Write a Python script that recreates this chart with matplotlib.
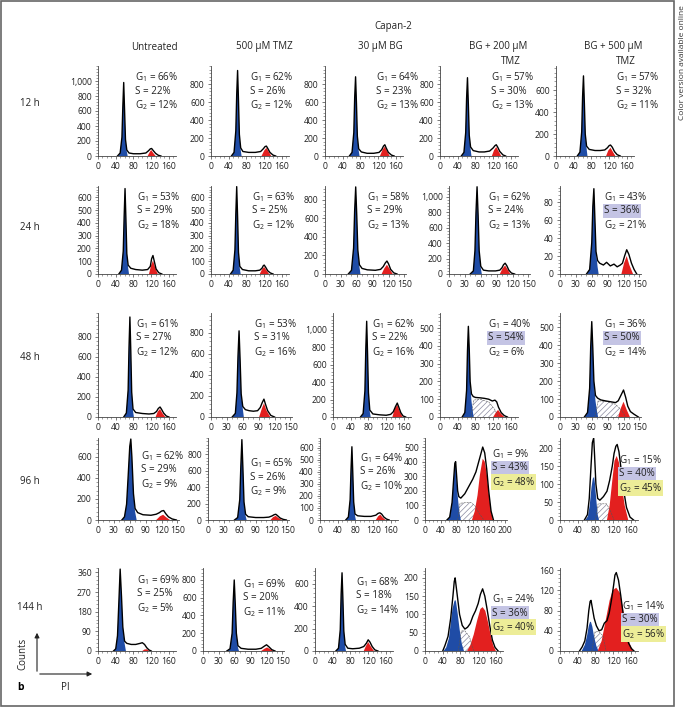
import matplotlib
matplotlib.use('Agg')
import matplotlib.pyplot as plt
from matplotlib.ticker import FixedLocator, MultipleLocator, FuncFormatter
from matplotlib.patches import FancyArrowPatch, Rectangle

W, H = 689, 708
plt.rcParams['font.family'] = ['Open Sans', 'DejaVu Sans']
plt.rcParams['hatch.linewidth'] = 0.5

times = ['12 h', '24 h', '48 h', '96 h', '144 h']
conditions = ['Untreated', '500 \u03bcM TMZ', '30 \u03bcM BG', 'BG + 200 \u03bcM', 'BG + 500 \u03bcM']

g1_pct = [[66, 62, 64, 57, 57], [53, 63, 58, 62, 43], [61, 53, 62, 40, 36],
          [62, 65, 64, 9, 15], [69, 69, 68, 24, 14]]
s_pct = [[22, 26, 23, 30, 32], [29, 25, 29, 24, 36], [27, 31, 22, 54, 50],
         [29, 26, 26, 43, 40], [25, 20, 18, 36, 30]]
g2_pct = [[12, 12, 13, 13, 11], [18, 12, 13, 13, 21], [12, 16, 16, 6, 14],
          [9, 9, 10, 48, 45], [5, 11, 14, 40, 56]]
s_marked = [[0, 0, 0, 0, 0], [0, 0, 0, 0, 1], [0, 0, 0, 1, 1], [0, 0, 0, 1, 1], [0, 0, 0, 1, 1]]
g2_marked = [[0, 0, 0, 0, 0], [0, 0, 0, 0, 0], [0, 0, 0, 0, 0], [0, 0, 0, 1, 1], [0, 0, 0, 1, 1]]

# PI axis: last tick label, y axis: (top, last tick label, step)
x_last = [[160, 160, 160, 160, 160], [160, 160, 150, 150, 150], [160, 150, 160, 160, 150],
          [150, 150, 160, 200, 160], [160, 150, 160, 160, 160]]
y_top = [[1200, 1000, 1000, 1000, 820], [690, 690, 950, 1140, 98], [1040, 990, 1195, 585, 578],
         [780, 1000, 683, 562, 228], [380, 935, 743, 227, 164]]
y_last = [[1000, 800, 800, 800, 600], [600, 600, 800, 1000, 80], [800, 800, 1000, 500, 500],
          [600, 800, 600, 500, 200], [360, 800, 600, 200, 160]]
y_step = [[200, 200, 200, 200, 200], [100, 100, 200, 200, 20], [200, 200, 200, 100, 100],
          [200, 200, 100, 100, 50], [90, 200, 200, 50, 40]]

# histogram outlines
outline_x = [
    [[44, 50, 54, 56, 58, 60, 62, 65, 70, 80, 95, 108, 114, 118, 121, 125, 130, 136, 142],
     [46, 52, 56, 58, 60, 62, 64, 67, 72, 85, 100, 112, 118, 122, 125, 128, 133, 140, 146],
     [55, 61, 65, 67, 69, 71, 73, 76, 82, 95, 110, 122, 128, 132, 135, 138, 143, 150, 156],
     [48, 54, 58, 60, 62, 64, 66, 69, 75, 88, 100, 112, 120, 124, 127, 130, 135, 142, 148],
     [48, 54, 58, 60, 62, 64, 66, 69, 75, 88, 100, 110, 116, 120, 123, 127, 132, 138, 145]],
    [[47, 53, 57, 59, 61, 63, 65, 68, 74, 85, 100, 112, 118, 121, 124, 127, 131, 137, 144],
     [44, 50, 54, 56, 58, 60, 62, 65, 71, 85, 100, 110, 115, 118, 120, 123, 128, 134, 140],
     [44, 50, 54, 56, 58, 60, 62, 65, 70, 80, 95, 105, 110, 114, 117, 120, 124, 130, 136],
     [40, 46, 49, 51, 53, 55, 57, 60, 65, 75, 88, 96, 100, 103, 106, 109, 113, 118, 124],
     [50, 56, 60, 62, 64, 66, 68, 71, 75, 82, 88, 95, 102, 108, 114, 118, 122, 126, 130, 135, 140, 145]],
    [[58, 64, 68, 70, 72, 74, 76, 79, 85, 100, 115, 126, 132, 136, 140, 143, 148, 154, 160],
     [40, 46, 49, 51, 53, 55, 57, 60, 65, 72, 80, 88, 93, 97, 100, 103, 107, 113, 120],
     [62, 68, 72, 74, 76, 78, 80, 83, 90, 105, 120, 130, 136, 141, 145, 148, 153, 158, 164],
     [50, 56, 60, 62, 64, 66, 68, 71, 75, 80, 90, 100, 110, 118, 124, 128, 132, 138, 145, 152],
     [46, 52, 56, 58, 60, 62, 64, 67, 71, 77, 85, 95, 105, 110, 115, 120, 124, 128, 133, 140, 148]],
    [[45, 50, 54, 57, 60, 62, 64, 67, 70, 75, 85, 100, 110, 116, 120, 124, 128, 133, 140, 148],
     [50, 56, 60, 62, 64, 66, 68, 71, 76, 90, 105, 115, 121, 125, 128, 131, 136, 142, 148],
     [58, 64, 68, 70, 72, 74, 76, 79, 85, 100, 115, 126, 131, 135, 139, 144, 150, 156],
     [55, 62, 68, 72, 75, 77, 79, 82, 85, 90, 100, 110, 120, 128, 134, 140, 145, 150, 155, 160, 166, 172],
     [55, 62, 66, 70, 73, 76, 78, 81, 85, 90, 98, 106, 112, 118, 122, 126, 129, 133, 138, 144, 150, 158, 166]],
    [[35, 40, 44, 47, 50, 53, 56, 60, 65, 75, 85, 95, 100, 105, 110, 115, 120],
     [45, 51, 55, 57, 59, 61, 63, 66, 72, 85, 100, 110, 116, 120, 124, 130, 136],
     [47, 53, 57, 59, 61, 63, 65, 68, 74, 85, 100, 110, 116, 120, 124, 129, 135, 142],
     [40, 45, 52, 58, 63, 66, 68, 70, 73, 78, 84, 90, 96, 102, 108, 114, 120, 125, 130, 135, 140, 146, 152, 158, 165],
     [44, 50, 56, 61, 65, 68, 70, 73, 77, 82, 88, 94, 100, 106, 111, 116, 121, 124, 127, 132, 137, 143, 149, 155, 161, 167]],
]
outline_y = [
    [[0, 40, 250, 650, 980, 600, 220, 80, 40, 30, 30, 40, 70, 95, 100, 70, 35, 10, 0],
     [0, 40, 280, 680, 950, 620, 240, 90, 50, 40, 40, 50, 80, 105, 110, 85, 40, 10, 0],
     [0, 40, 260, 650, 880, 580, 220, 80, 45, 30, 30, 40, 70, 110, 125, 90, 40, 10, 0],
     [0, 40, 260, 640, 870, 570, 230, 100, 60, 45, 45, 55, 90, 115, 125, 100, 50, 12, 0],
     [0, 35, 220, 540, 730, 480, 200, 90, 60, 50, 50, 55, 75, 95, 100, 80, 40, 12, 0]],
    [[0, 30, 180, 450, 670, 430, 160, 70, 45, 35, 30, 35, 60, 120, 145, 100, 40, 10, 0],
     [0, 30, 190, 470, 685, 450, 170, 60, 35, 25, 25, 30, 45, 65, 70, 55, 25, 8, 0],
     [0, 40, 280, 680, 940, 630, 260, 100, 60, 45, 40, 50, 80, 120, 140, 110, 50, 12, 0],
     [0, 40, 300, 800, 1130, 760, 300, 100, 50, 40, 40, 50, 80, 120, 140, 110, 50, 12, 0],
     [0, 5, 35, 75, 95, 60, 25, 15, 12, 10, 13, 9, 11, 8, 10, 12, 20, 27, 22, 12, 5, 0]],
    [[0, 40, 270, 700, 1000, 660, 250, 80, 45, 35, 30, 35, 55, 85, 100, 80, 40, 10, 0],
     [0, 35, 230, 580, 820, 540, 220, 100, 70, 60, 55, 60, 90, 140, 170, 120, 60, 15, 0],
     [0, 40, 300, 780, 1100, 720, 280, 80, 35, 25, 20, 30, 60, 120, 160, 120, 50, 12, 0],
     [0, 25, 150, 370, 510, 380, 200, 130, 115, 110, 108, 105, 100, 90, 95, 85, 55, 25, 8, 0],
     [0, 25, 160, 390, 530, 380, 200, 120, 105, 95, 90, 85, 80, 90, 120, 150, 110, 60, 30, 15, 0]],
    [[0, 30, 150, 420, 700, 770, 600, 250, 110, 70, 50, 45, 55, 70, 85, 90, 60, 30, 10, 0],
     [0, 30, 250, 650, 980, 620, 220, 70, 40, 30, 30, 35, 50, 65, 70, 55, 25, 8, 0],
     [0, 25, 170, 420, 610, 390, 150, 50, 35, 30, 30, 40, 55, 60, 50, 25, 8, 0],
     [0, 20, 120, 280, 390, 400, 320, 200, 160, 150, 180, 230, 280, 330, 390, 450, 500, 460, 350, 200, 60, 0],
     [0, 15, 60, 150, 215, 228, 180, 100, 60, 55, 65, 80, 110, 150, 185, 205, 210, 190, 140, 80, 35, 8, 0]],
    [[0, 10, 70, 220, 375, 250, 110, 45, 35, 30, 30, 35, 38, 30, 15, 5, 0],
     [0, 25, 200, 550, 800, 520, 200, 60, 30, 20, 20, 30, 55, 70, 50, 15, 0],
     [0, 25, 190, 510, 700, 460, 180, 60, 25, 20, 25, 40, 70, 100, 80, 40, 10, 0],
     [0, 15, 40, 90, 150, 190, 200, 180, 150, 100, 70, 60, 65, 75, 95, 110, 130, 155, 170, 150, 115, 70, 30, 10, 0],
     [0, 8, 20, 45, 80, 98, 100, 85, 65, 50, 40, 42, 55, 60, 75, 100, 130, 150, 155, 140, 110, 70, 35, 15, 5, 0]],
]

# G1 fit (blue)
g1_x = [
    [[46, 50, 54, 56, 58, 60, 62, 65, 67], [47, 52, 56, 58, 60, 62, 64, 67, 69],
     [56, 61, 65, 67, 69, 71, 73, 76, 78], [49, 54, 58, 60, 62, 64, 66, 69, 71],
     [49, 54, 58, 60, 62, 64, 66, 69, 71]],
    [[48, 53, 57, 59, 61, 63, 65, 68, 70], [45, 50, 54, 56, 58, 60, 62, 65, 67],
     [45, 50, 54, 56, 58, 60, 62, 65, 67], [41, 46, 49, 51, 53, 55, 57, 60, 62],
     [51, 56, 60, 62, 64, 66, 68, 71, 73]],
    [[59, 64, 68, 70, 72, 74, 76, 79, 81], [41, 46, 49, 51, 53, 55, 57, 60, 62],
     [63, 68, 72, 74, 76, 78, 80, 83, 85], [51, 56, 60, 62, 64, 66, 68, 71, 74, 76],
     [47, 52, 56, 58, 60, 62, 64, 67, 70, 72]],
    [[46, 50, 54, 57, 60, 62, 64, 67, 70, 73], [51, 56, 60, 62, 64, 66, 68, 71, 73],
     [59, 64, 68, 70, 72, 74, 76, 79, 81], [56, 62, 68, 72, 75, 77, 79, 82, 86, 90],
     [57, 63, 67, 71, 74, 77, 79, 82, 85, 88]],
    [[36, 40, 44, 47, 50, 53, 56, 60, 63], [46, 51, 55, 57, 59, 61, 63, 66, 68],
     [48, 53, 57, 59, 61, 63, 65, 68, 70], [42, 48, 54, 58, 62, 66, 68, 70, 74, 78, 83, 88],
     [49, 56, 61, 65, 68, 70, 73, 77, 82, 87]],
]
g1_y = [
    [[0, 40, 250, 650, 980, 600, 220, 60, 0], [0, 40, 280, 680, 950, 620, 240, 70, 0],
     [0, 40, 260, 650, 880, 580, 220, 60, 0], [0, 40, 260, 640, 870, 570, 230, 80, 0],
     [0, 35, 220, 540, 730, 480, 200, 70, 0]],
    [[0, 30, 180, 450, 670, 430, 160, 50, 0], [0, 30, 190, 470, 685, 450, 170, 45, 0],
     [0, 40, 280, 680, 940, 630, 260, 80, 0], [0, 40, 300, 800, 1130, 760, 300, 80, 0],
     [0, 5, 35, 75, 95, 60, 25, 8, 0]],
    [[0, 40, 270, 700, 1000, 660, 250, 60, 0], [0, 35, 230, 580, 820, 540, 220, 80, 0],
     [0, 40, 300, 780, 1100, 720, 280, 60, 0], [0, 25, 150, 370, 510, 380, 200, 90, 30, 0],
     [0, 25, 160, 390, 530, 380, 200, 90, 30, 0]],
    [[0, 30, 150, 420, 700, 770, 600, 250, 80, 0], [0, 30, 250, 650, 980, 620, 220, 50, 0],
     [0, 25, 170, 420, 610, 390, 150, 35, 0], [0, 20, 120, 270, 375, 385, 300, 170, 60, 0],
     [0, 10, 40, 90, 115, 120, 100, 55, 15, 0]],
    [[0, 10, 70, 220, 375, 250, 110, 35, 0], [0, 25, 200, 550, 800, 520, 200, 40, 0],
     [0, 25, 190, 510, 700, 460, 180, 40, 0], [0, 10, 35, 75, 115, 135, 140, 135, 100, 60, 20, 0],
     [0, 12, 30, 50, 58, 57, 48, 28, 10, 0]],
]

# G2 fit (red)
g2_x = [
    [[112, 117, 120, 124, 130], [114, 120, 125, 130, 136], [124, 130, 135, 140, 146],
     [117, 122, 127, 132, 138], [113, 118, 123, 128, 134]],
    [[115, 120, 124, 129, 135], [110, 115, 120, 125, 131], [107, 112, 117, 122, 128],
     [96, 101, 106, 111, 116], [116, 121, 126, 131, 138]],
    [[130, 135, 140, 145, 152], [91, 96, 100, 105, 112], [134, 139, 145, 150, 157],
     [120, 126, 131, 137, 145], [110, 115, 120, 126, 132]],
    [[110, 117, 123, 129, 136], [118, 123, 128, 133, 140], [126, 131, 136, 141, 148],
     [118, 125, 132, 138, 145, 150, 155, 160, 166, 171],
     [106, 112, 118, 123, 128, 133, 139, 146, 154]],
    [[100, 105, 110, 116], [110, 116, 121, 127, 133], [110, 115, 120, 126, 133],
     [95, 102, 110, 118, 125, 130, 136, 142, 148, 154, 160],
     [85, 94, 103, 112, 119, 127, 135, 142, 149, 157, 165]],
]
g2_y = [
    [[0, 55, 80, 45, 0], [0, 60, 90, 50, 0], [0, 70, 105, 55, 0], [0, 65, 100, 55, 0], [0, 50, 75, 40, 0]],
    [[0, 70, 105, 50, 0], [0, 35, 55, 30, 0], [0, 60, 100, 55, 0], [0, 70, 110, 55, 0], [0, 12, 20, 10, 0]],
    [[0, 55, 80, 40, 0], [0, 80, 130, 60, 0], [0, 90, 140, 70, 0], [0, 25, 40, 20, 0], [0, 50, 85, 40, 0]],
    [[0, 35, 50, 25, 0], [0, 35, 50, 25, 0], [0, 30, 45, 22, 0],
     [0, 60, 170, 310, 420, 400, 320, 190, 60, 0], [0, 40, 110, 165, 178, 160, 100, 40, 0]],
    [[0, 7, 8, 0], [0, 25, 40, 20, 0], [0, 45, 80, 40, 0],
     [0, 15, 45, 85, 115, 120, 110, 80, 45, 15, 0], [0, 20, 60, 100, 120, 125, 115, 85, 45, 15, 0]],
]

# S-phase fit (hatched), only drawn for the BG + TMZ panels
s_x = {(2, 3): [70, 76, 90, 110, 124, 132], (2, 4): [66, 72, 90, 105, 116, 124],
       (3, 3): [82, 88, 100, 115, 125, 135, 148], (3, 4): [80, 86, 95, 105, 114, 122],
       (4, 3): [75, 82, 90, 100, 110], (4, 4): [72, 79, 88, 97, 104]}
s_y = {(2, 3): [0, 95, 100, 85, 40, 0], (2, 4): [0, 90, 85, 70, 40, 0],
       (3, 3): [0, 115, 118, 120, 100, 50, 0], (3, 4): [0, 45, 45, 45, 25, 0],
       (4, 3): [0, 55, 55, 40, 0], (4, 4): [0, 38, 38, 30, 0]}

# layout in pixels
row_box = [(66, 156), (186, 274), (313, 417), (438, 520), (568, 651)]
col_left = [[98, 211, 325, 440, 556], [98, 211, 325, 449, 560], [98, 211, 333, 440, 560],
            [98, 208, 320, 425, 560], [98, 203, 315, 425, 560]]
x_span = {160: (176, 78), 150: (153, 81), 200: (206, 82)}
label_pos = [[(135, 77), (250, 77), (376, 77), (491, 77), (616, 77)],
             [(137, 197), (252, 197), (367, 197), (488, 197), (604, 197)],
             [(136, 324), (254, 324), (372, 324), (488, 324), (604, 324)],
             [(141, 456), (250, 463), (360, 458), (492, 454), (619, 460)],
             [(137, 580), (243, 584), (356, 582), (492, 599), (622, 606)]]
row_y = [104, 227, 358, 482, 607]
title_x = [154, 264, 380, 498, 613]

BLUE = '#1f4ca6'
RED = '#e3201f'
LAV = '#c4c4e4'
YEL = '#eded98'


def fx(x):
    return x / W


def fy(y):
    return 1 - y / H


fig = plt.figure(figsize=(W / 100, H / 100), dpi=100)

for r in range(5):
    top, base = row_box[r]
    for c in range(5):
        xmax, wpx = x_span[x_last[r][c]]
        left = col_left[r][c]
        ax = fig.add_axes([fx(left), fy(base), wpx / W, (base - top) / H])
        key = (r, c)
        if key in s_x:
            ax.fill(s_x[key], s_y[key], facecolor='white', edgecolor='#8a8aa0',
                    hatch='//////', linewidth=0, zorder=1)
            ax.plot(s_x[key], s_y[key], color='#555555', lw=0.4, ls='--', zorder=4)
        ax.fill(g1_x[r][c], g1_y[r][c], color=BLUE, lw=0, zorder=2)
        ax.fill(g2_x[r][c], g2_y[r][c], color=RED, lw=0, zorder=2)
        ax.plot(outline_x[r][c], outline_y[r][c], color='black', lw=1.0, zorder=5)

        ax.set_xlim(0, xmax)
        ax.set_ylim(0, y_top[r][c])
        xs = 40 if x_last[r][c] != 150 else 30
        ax.xaxis.set_major_locator(FixedLocator(list(range(0, x_last[r][c] + 1, xs))))
        ax.xaxis.set_minor_locator(MultipleLocator(10))
        ax.yaxis.set_major_locator(FixedLocator(list(range(0, y_last[r][c] + 1, y_step[r][c]))))
        ax.yaxis.set_minor_locator(MultipleLocator(y_step[r][c] / 5))
        ax.yaxis.set_major_formatter(FuncFormatter(lambda v, p: f'{int(v):,}'))
        for s in ['top', 'right']:
            ax.spines[s].set_visible(False)
        for s in ['left', 'bottom']:
            ax.spines[s].set_linewidth(0.6)
            ax.spines[s].set_color('#444444')
        ax.tick_params(which='major', length=2.5, width=0.5, labelsize=6.2, pad=2,
                       color='#444444', labelcolor='#222222')
        ax.tick_params(which='minor', length=1.5, width=0.4, color='#555555')
        ax.set_facecolor('none')

        lx, ly = label_pos[r][c]
        lines = [f'G$\\mathregular{{_1}}$ = {g1_pct[r][c]}%',
                 f'S = {s_pct[r][c]}%',
                 f'G$\\mathregular{{_2}}$ = {g2_pct[r][c]}%']
        marks = [0, s_marked[r][c], g2_marked[r][c]]
        for i, (txt, m) in enumerate(zip(lines, marks)):
            kw = {}
            if m:
                kw['bbox'] = dict(boxstyle='square,pad=0.12',
                                  facecolor=LAV if i == 1 else YEL, edgecolor='none')
            fig.text(fx(lx), fy(ly + 14 * i), txt, fontsize=7.1, color='#222222',
                     ha='left', va='center', **kw)

# titles
fig.text(fx(393), fy(27), 'Capan-2', fontsize=7, ha='center', va='center', color='#222222')
for c, name in enumerate(conditions):
    fig.text(fx(title_x[c]), fy(47), name, fontsize=7, ha='center', va='center', color='#222222')
fig.text(fx(511), fy(62), 'TMZ', fontsize=7, ha='center', va='center', color='#222222')
fig.text(fx(626), fy(62), 'TMZ', fontsize=7, ha='center', va='center', color='#222222')

for r, t in enumerate(times):
    fig.text(fx(30), fy(row_y[r]), t, fontsize=7, ha='center', va='center', color='#222222')

# axis key
fig.add_artist(FancyArrowPatch((fx(37), fy(674)), (fx(37), fy(630)), transform=fig.transFigure,
                               arrowstyle='-|>', mutation_scale=7, lw=0.8, color='#222222'))
fig.add_artist(FancyArrowPatch((fx(37), fy(674)), (fx(95), fy(674)), transform=fig.transFigure,
                               arrowstyle='-|>', mutation_scale=7, lw=0.8, color='#222222'))
fig.text(fx(23), fy(654), 'Counts', rotation=90, fontsize=7, ha='center', va='center', color='#222222')
fig.text(fx(65), fy(687), 'PI', fontsize=7, ha='center', va='center', color='#222222')
fig.text(fx(21), fy(687), 'b', fontsize=7.5, fontweight='bold', ha='center', va='center')

# frame
fig.add_artist(Rectangle((fx(1), fy(706)), fx(673), 705 / H, transform=fig.transFigure,
                         fill=False, edgecolor='#666666', lw=1.2))
fig.text(fx(683), fy(5), 'Color version available online', rotation=90, fontsize=6,
         ha='center', va='top', color='#333333')

fig.savefig('out.png', dpi=100)
